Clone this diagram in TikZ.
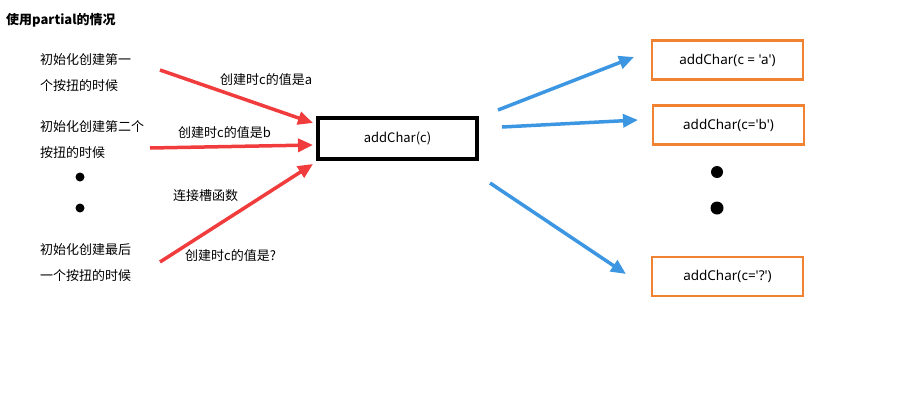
\documentclass[tikz,border=0pt]{standalone}
\usepackage{fontspec}
\setmainfont{Noto Sans CJK SC}
\newfontfamily\latfont{Noto Sans}
\usetikzlibrary{arrows.meta}
\begin{document}
\begin{tikzpicture}[x=1pt,y=-1pt,
  txt/.style={font=\fontsize{13}{26}\selectfont,inner sep=0pt,anchor=west,align=left},
  redar/.style={draw={rgb,255:red,240;green,60;blue,60},line width=3.5pt,-{Triangle[length=15pt,width=13pt]}},
  bluear/.style={draw={rgb,255:red,60;green,150;blue,225},line width=3.5pt,-{Triangle[length=15pt,width=13pt]}},
  obox/.style={draw={rgb,255:red,240;green,130;blue,50},line width=2.5pt,minimum width=151pt,minimum height=39pt,font=\latfont\fontsize{13.5}{17}\selectfont},
  dot/.style={circle,fill=black,inner sep=0pt}]
\useasboundingbox (0,0) rectangle (922,410);
\node[txt,font=\fontsize{13}{15}\bfseries\selectfont] (title) at (6,20) {使用partial的情况};
\node[txt] (l1) at (40,73) {初始化创建第一\\个按扭的时候};
\node[txt] (l2) at (40,140) {初始化创建第二个\\按扭的时候};
\node[dot,minimum size=9pt] (d1) at (80,177) {};
\node[dot,minimum size=9pt] (d2) at (80,208) {};
\node[txt] (l3) at (40,263) {初始化创建最后\\一个按扭的时候};
\node[draw,line width=4pt,minimum width=159pt,minimum height=41pt,font=\fontsize{13}{16}\selectfont] (c) at (397.5,138.5) {addChar(c)};
\coordinate (r1) at (160,70);
\coordinate (r2) at (150,148);
\coordinate (r3) at (160,262);
\draw[redar] (r1) -- (313,123);
\draw[redar] (r2) -- (313,145);
\draw[redar] (r3) -- (313,164);
\node[txt] (la) at (220,80) {创建时c的值是a};
\node[txt] (lb) at (178,133) {创建时c的值是b};
\node[txt] (lc) at (173,196) {连接槽函数};
\node[txt] (ld) at (185,256) {创建时c的值是?};
\node[obox] (o1) at (727.5,60) {addChar(c = 'a')};
\node[obox] (o2) at (728.5,125) {addChar(c='b')};
\node[obox] (o3) at (727.5,276.5) {addChar(c='?')};
\node[dot,minimum size=12pt] (d3) at (717,172) {};
\node[dot,minimum size=13pt] (d4) at (717,208) {};
\coordinate (b1) at (498,110);
\coordinate (b2) at (502,127);
\coordinate (b3) at (490,183);
\draw[bluear] (b1) -- (634,57);
\draw[bluear] (b2) -- (638,120);
\draw[bluear] (b3) -- (626,274);
\end{tikzpicture}
\end{document}
